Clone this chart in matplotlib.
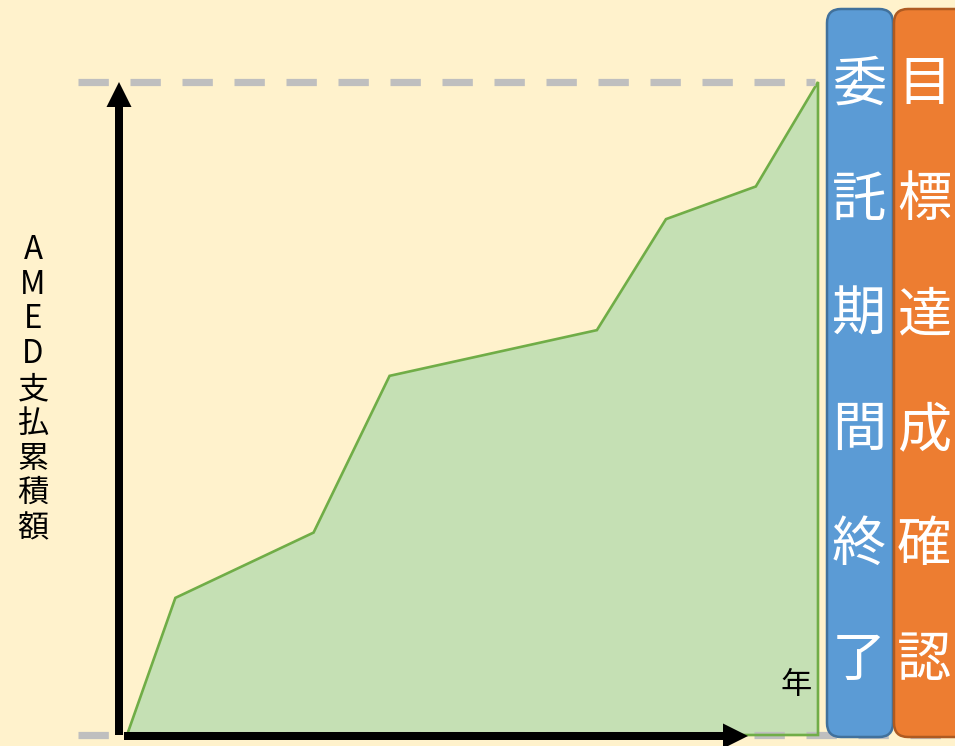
import matplotlib.pyplot as plt
from matplotlib.patches import FancyArrow, FancyBboxPatch

plt.rcParams['font.family'] = ['Noto Sans CJK JP', 'DejaVu Sans']

# cumulative AMED payment over the contract period (relative units)
years = [0, 0.7, 2.7, 3.8, 6.8, 7.8, 9.1, 10]
cum_pay = [0, 21, 31, 55, 62, 79, 84, 100]

y_label = 'AMED支払累積額'
x_label = '年'
box_blue = '委託期間終了'
box_orange = '目標達成確認'

bg_color = '#FFF2CC'
W, H = 955, 746


def main():
    fig = plt.figure(figsize=(W / 100, H / 100), dpi=100, facecolor=bg_color)

    # chart area, x 127..818 px, y 82..735 px
    ax = fig.add_axes([127 / W, (H - 735) / H, 691 / W, 653 / H])
    ax.set_xlim(0, 10)
    ax.set_ylim(0, 100)
    ax.axis('off')
    px = 10 / 691  # one pixel in x data units

    ax.fill_between(years, cum_pay, 0, color='#C5E0B4', lw=0, zorder=1)
    xs = years + [years[-1], years[0]]
    ys = cum_pay + [0, 0]
    ax.plot(xs, ys, color='#70AD47', lw=1.9, zorder=2, solid_joinstyle='miter',
            clip_on=False)

    # dashed reference lines at 0 and max
    ax.plot([-49 * px, (815 - 127) * px], [100, 100], color='#BFBFBF', lw=5.2,
            dashes=(4.2, 3.0), clip_on=False, zorder=3)
    ax.plot([-49 * px, (W - 127) * px], [0, 0], color='#BFBFBF', lw=5.2,
            dashes=(4.2, 3.0), clip_on=False, zorder=1.5)

    # overlay in pixel coordinates for arrows, boxes and text
    ov = fig.add_axes([0, 0, 1, 1])
    ov.set_xlim(0, W)
    ov.set_ylim(H, 0)
    ov.axis('off')
    ov.patch.set_alpha(0)

    ov.add_patch(FancyArrow(119, 735, 0, -653, width=8, head_width=25, head_length=25,
                            length_includes_head=True, color='black', lw=0))
    ov.add_patch(FancyArrow(124, 736, 624, 0, width=8, head_width=25, head_length=25,
                            length_includes_head=True, color='black', lw=0))

    step = (528 - 250) / (len(y_label) - 1)
    for i, ch in enumerate(y_label):
        ov.text(33, 250 + i * step, ch, fontsize=22.5, ha='center', va='center', color='black')
    ov.text(796, 685, x_label, fontsize=22.5, ha='center', va='center', color='black')

    for x0, w, face, edge, label, cx in [
            (827, 66, '#5B9BD5', '#41719C', box_blue, 859),
            (894, 80, '#ED7D31', '#AE5A21', box_orange, 924)]:
        ov.add_patch(FancyBboxPatch((x0, 9), w, 728,
                                    boxstyle='round,pad=0,rounding_size=14',
                                    fc=face, ec=edge, lw=1.8, zorder=4))
        st = (661 - 85) / (len(label) - 1)
        for i, ch in enumerate(label):
            ov.text(cx, 85 + i * st, ch, fontsize=39, ha='center', va='center',
                    color='white', zorder=5)

    fig.savefig('out.png', dpi=100, facecolor=bg_color)


if __name__ == '__main__':
    main()
